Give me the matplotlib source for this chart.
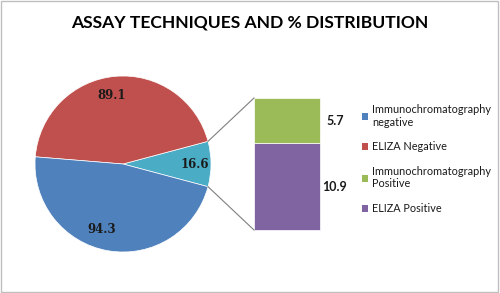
import numpy as np
import matplotlib
matplotlib.use("Agg")
import matplotlib.pyplot as plt
from matplotlib.patches import Rectangle, Patch

# data
pie_labels = ['Other', 'ELIZA Negative', 'Immunochromatography negative']
pie_values = [16.6, 89.1, 94.3]
pie_colors = ['#4BACC6', '#C0504D', '#4F81BD']

bar_labels = ['ELIZA Positive', 'Immunochromatography Positive']
bar_values = [10.9, 5.7]
bar_colors = ['#8064A2', '#9BBB59']

legend_labels = ['Immunochromatography\nnegative', 'ELIZA Negative',
                 'Immunochromatography\nPositive', 'ELIZA Positive']
legend_colors = ['#4F81BD', '#C0504D', '#9BBB59', '#8064A2']

W, H = 500, 293
fig = plt.figure(figsize=(5, 2.93), dpi=100)
ax = fig.add_axes([0, 0, 1, 1])

# border
fig.patches.append(Rectangle((0.002, 0.003), 0.994, 0.994, transform=fig.transFigure,
                             fill=False, edgecolor='#BFBFBF', lw=1))

# pie
cx, cy, r = 123, H - 164, 88
half = pie_values[0] / sum(pie_values) * 180
wedges, _ = ax.pie(pie_values, colors=pie_colors, startangle=-half, counterclock=True,
                   center=(cx, cy), radius=r, frame=True,
                   wedgeprops=dict(edgecolor='white', linewidth=0.5))
ax.set_xlim(0, W)
ax.set_ylim(0, H)
ax.axis('off')

ax.text(W / 2, H - 23, 'ASSAY TECHNIQUES AND % DISTRIBUTION',
        ha='center', va='center', fontsize=12.6, fontweight='bold', family='Lato')

lab_font = dict(fontsize=8.5, fontweight='bold', family='DejaVu Serif', color='#1a1a1a')
for w, v, f, da in zip(wedges, pie_values, [0.82, 0.79, 0.78], [0, 4, -8]):
    a = np.deg2rad((w.theta1 + w.theta2) / 2 + da)
    ax.text(cx + f * r * np.cos(a), cy + f * r * np.sin(a), f'{v}',
            ha='center', va='center', **lab_font)

# bar of the "other" slice
bx, bw, bbot, btop = 254, 66, H - 230, H - 98
scale = (btop - bbot) / sum(bar_values)
bottom = bbot
for v, c in zip(bar_values, bar_colors):
    ax.bar(bx + bw / 2, v * scale, width=bw, bottom=bottom, color=c, edgecolor='white', lw=0.5)
    ax.text(bx + bw + 15, bottom + v * scale / 2, f'{v}', ha='center', va='center',
            fontsize=9, fontweight='bold', family='Lato', color='#1a1a1a')
    bottom += v * scale

# connectors
for ang, yb in [(half, btop), (-half, bbot)]:
    a = np.deg2rad(ang)
    ax.plot([cx + r * np.cos(a), bx], [cy + r * np.sin(a), yb], color='#7f7f7f', lw=0.8)

handles = [Patch(facecolor=c, edgecolor='none') for c in legend_colors]
leg = ax.legend(handles, legend_labels, loc='upper left', bbox_to_anchor=(352 / W, 1 - 94 / H),
                frameon=False, handlelength=0.6, handleheight=0.6, handletextpad=0.35,
                labelspacing=1.25, prop=dict(family='Lato', size=7.8))
for t in leg.get_texts():
    t.set_color('#1a1a1a')

fig.savefig('out.png', dpi=100)
